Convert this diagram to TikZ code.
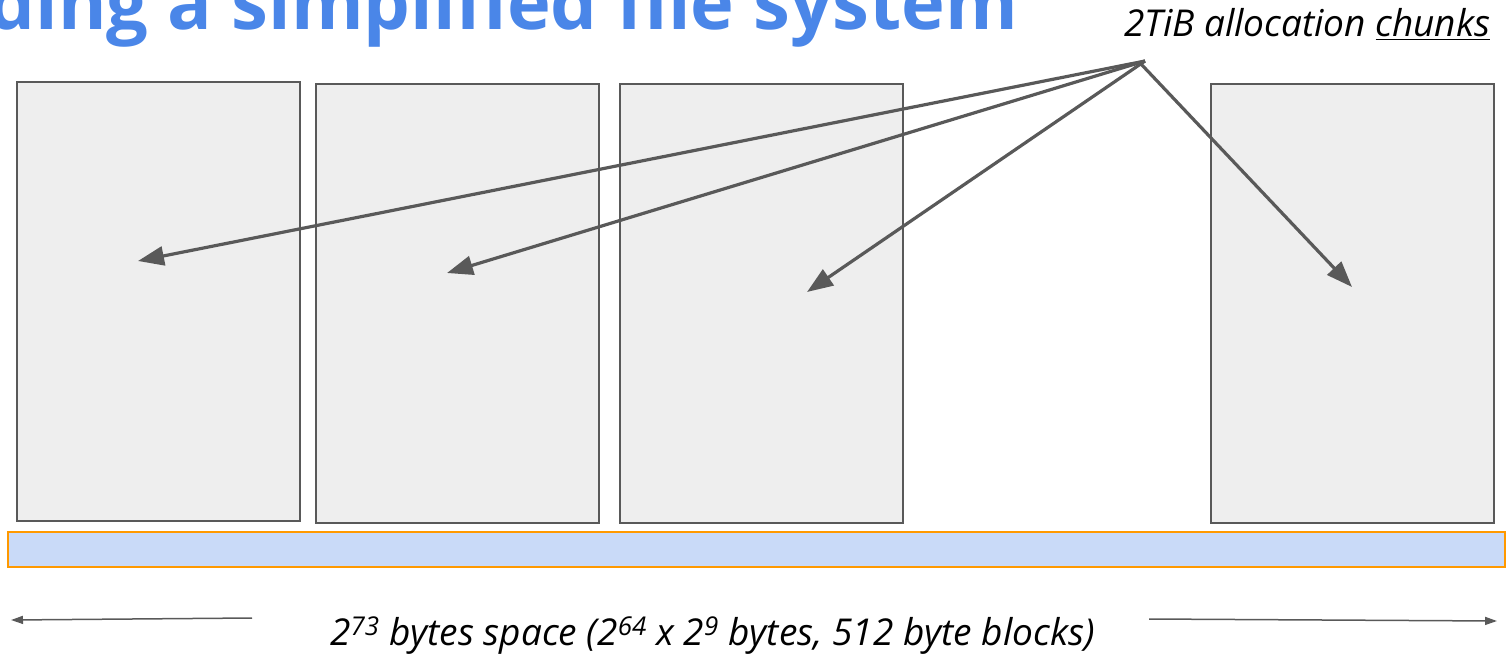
\documentclass[tikz,border=0pt]{standalone}
\usepackage{fontspec}
\setmainfont{Open Sans}
\usetikzlibrary{arrows.meta}
\definecolor{boxgray}{HTML}{EEEEEE}
\definecolor{linegray}{HTML}{595959}
\definecolor{barblue}{HTML}{C9DAF8}
\definecolor{barorange}{HTML}{FF9900}
\definecolor{titleblue}{HTML}{4A86E8}
\tikzset{
  chunkbox/.style={draw=linegray, fill=boxgray, line width=1.5pt},
  barbox/.style={draw=barorange, fill=barblue, line width=1.5pt},
  bigarrow/.style={draw=linegray, line width=3.2pt, -{Triangle[length=26pt,width=19pt]}},
  smallarrow/.style={draw=linegray, line width=1.5pt, -{Triangle[length=12pt,width=8pt]}},
  label/.style={inner sep=0pt, font=\fontsize{37}{42}\selectfont\itshape}
}
\begin{document}
\begin{tikzpicture}[x=1pt,y=-1pt]
\useasboundingbox (0,0) rectangle (1506,655);
% title (cut by the page edge)
\node[inner sep=0pt, anchor=base east, text=titleblue,
      font=\fontsize{74}{84}\selectfont\bfseries] (title) at (1018,30)
  {Building a simplified file system};
% chunks
\draw[chunkbox] (17,82) rectangle (300,521);
\draw[chunkbox] (316,84) rectangle (599,523);
\draw[chunkbox] (620,84) rectangle (903,523);
\draw[chunkbox] (1211,84) rectangle (1494,523);
% address space bar
\draw[barbox] (8,532) rectangle (1505,567);
% labels
\node[label, anchor=base west] (chunks) at (1124,37) {2TiB allocation \underline{chunks}};
\node[label, anchor=base west] (space) at (330,645)
  {2\textsuperscript{73} bytes space (2\textsuperscript{64} x 2\textsuperscript{9} bytes, 512 byte blocks)};
% arrows
\coordinate (src) at (1145,61);
\coordinate (srcb) at (1141,64);
\coordinate (t1) at (138,261);
\coordinate (t2) at (447,273);
\coordinate (t3) at (807,292);
\coordinate (t4) at (1352,287);
\draw[bigarrow] (src) -- (t1);
\draw[bigarrow] (src) -- (t2);
\draw[bigarrow] (src) -- (t3);
\draw[bigarrow] (srcb) -- (t4);
% bottom arrows
\coordinate (la) at (252,618);
\coordinate (lt) at (11,620);
\coordinate (ra) at (1149,619);
\coordinate (rt) at (1497,621);
\draw[smallarrow] (la) -- (lt);
\draw[smallarrow] (ra) -- (rt);
\end{tikzpicture}
\end{document}
